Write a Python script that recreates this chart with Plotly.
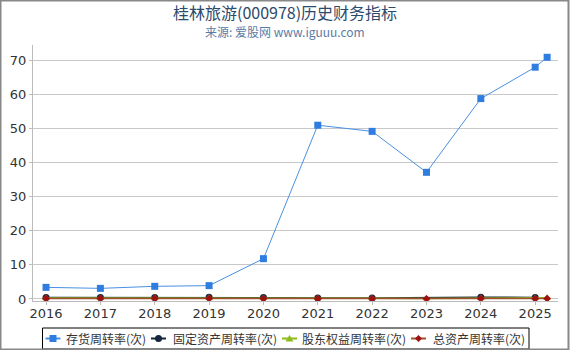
import plotly.graph_objects as go

years = [2016, 2017, 2018, 2019, 2020, 2021, 2022, 2023, 2024, 2025, 2025.22]
tick_vals = [2016, 2017, 2018, 2019, 2020, 2021, 2022, 2023, 2024, 2025]
tick_text = ["2016", "2017", "2018", "2019", "2020", "2021", "2022", "2023", "2024", "2025"]

inventory = [3.4, 3.1, 3.7, 3.9, 11.8, 50.9, 49.1, 37.1, 58.7, 67.9, 70.8]
fixed_asset = [0.45, 0.4, 0.45, 0.5, 0.45, 0.25, 0.25, None, 0.5, 0.45, None]
equity = [0.3, 0.3, 0.35, 0.35, 0.3, 0.2, 0.2, 0.1, 0.3, 0.3, 0.35]
total_asset = [0.12, 0.12, 0.13, 0.14, 0.12, 0.07, 0.07, 0.05, 0.12, 0.12, 0.1]

names = ["存货周转率(次)", "固定资产周转率(次)", "股东权益周转率(次)", "总资产周转率(次)"]
title_text = "桂林旅游(000978)历史财务指标"
subtitle_text = "来源: 爱股网 www.iguuu.com"

line_colors = ["#4a90e2", "#15263d", "#8dbb1c", "#a0522d"]
marker_colors = ["#2f7de1", "#15263d", "#8dbb1c", "#a01010"]
symbols = ["square", "circle", "triangle-up", "diamond"]
series = [inventory, fixed_asset, equity, total_asset]

L, T, PW, PH = 33, 45, 525, 256


def px(x):
    return (x - L) / PW


def py(y):
    return (T + PH - y) / PH


fig = go.Figure()
for i in range(4):
    fig.add_trace(go.Scatter(
        x=years, y=series[i], name=names[i], mode="lines+markers",
        line=dict(color=line_colors[i], width=1 if i == 0 else 1.5),
        marker=dict(symbol=symbols[i], size=7 if i < 3 else 6, color=marker_colors[i]),
        connectgaps=True, showlegend=False))

fig.update_layout(
    width=570, height=350,
    margin=dict(l=L, r=570 - L - PW, t=T, b=350 - T - PH, autoexpand=False),
    paper_bgcolor="white", plot_bgcolor="white",
    font=dict(family="Noto Sans CJK SC, DejaVu Sans", size=12, color="#333333"),
    xaxis=dict(range=[2015.76, 2025.42], tickmode="array", tickvals=tick_vals, ticktext=tick_text,
               showgrid=False, showline=True, linecolor="#bbbbbb", linewidth=1,
               ticks="outside", ticklen=3, tickcolor="#bbbbbb", ticklabelstandoff=-3,
               tickfont=dict(size=13, color="#333333", family="DejaVu Sans"), zeroline=False),
    yaxis=dict(range=[-0.6, 74.4], tickvals=[0, 10, 20, 30, 40, 50, 60, 70],
               showgrid=True, gridcolor="#c8c8c8", gridwidth=1,
               showline=True, linecolor="#bbbbbb", linewidth=1,
               ticks="outside", ticklen=3, tickcolor="#bbbbbb",
               tickfont=dict(size=13, color="#333333", family="DejaVu Sans"), zeroline=False),
    showlegend=False,
)

# title and subtitle
fig.add_annotation(text=title_text, xref="paper", yref="paper", x=px(285), y=py(11.5),
                   xanchor="center", yanchor="middle", showarrow=False,
                   font=dict(size=16, color="#2c4a6b"))
fig.add_annotation(text=subtitle_text, xref="paper", yref="paper", x=px(285), y=py(31.5),
                   xanchor="center", yanchor="middle", showarrow=False,
                   font=dict(size=12, color="#5b7ba5"))

# custom legend
leg_left, leg_right, leg_top, leg_bottom = 42.5, 529, 328, 349
fig.add_shape(type="rect", xref="paper", yref="paper",
              x0=px(leg_left), x1=px(leg_right), y0=py(leg_bottom), y1=py(leg_top),
              line=dict(color="#000000", width=1), fillcolor="white", layer="above")
ly = 338.5
sym_starts = [45.5, 151, 282, 411]
text_starts = [64, 171, 300, 431]
for i in range(4):
    x0, x1 = sym_starts[i], sym_starts[i] + 15
    cx = (x0 + x1) / 2
    fig.add_shape(type="line", xref="paper", yref="paper", x0=px(x0), x1=px(x1), y0=py(ly), y1=py(ly),
                  line=dict(color=line_colors[i], width=2), layer="above")
    s = 3.5
    if symbols[i] == "square":
        fig.add_shape(type="rect", xref="paper", yref="paper", x0=px(cx - s), x1=px(cx + s),
                      y0=py(ly + s), y1=py(ly - s), line=dict(width=0), fillcolor=marker_colors[i], layer="above")
    elif symbols[i] == "circle":
        fig.add_shape(type="circle", xref="paper", yref="paper", x0=px(cx - s), x1=px(cx + s),
                      y0=py(ly + s), y1=py(ly - s), line=dict(width=0), fillcolor=marker_colors[i], layer="above")
    elif symbols[i] == "triangle-up":
        path = "M {} {} L {} {} L {} {} Z".format(px(cx), py(ly - s), px(cx - s - 0.5), py(ly + s - 0.5),
                                                  px(cx + s + 0.5), py(ly + s - 0.5))
        fig.add_shape(type="path", xref="paper", yref="paper", path=path,
                      line=dict(width=0), fillcolor=marker_colors[i], layer="above")
    else:
        path = "M {} {} L {} {} L {} {} L {} {} Z".format(px(cx), py(ly - s), px(cx + s), py(ly),
                                                          px(cx), py(ly + s), px(cx - s), py(ly))
        fig.add_shape(type="path", xref="paper", yref="paper", path=path,
                      line=dict(width=0), fillcolor=marker_colors[i], layer="above")
    fig.add_annotation(text=names[i], xref="paper", yref="paper", x=px(text_starts[i]), y=py(ly),
                       xanchor="left", yanchor="middle", showarrow=False,
                       font=dict(size=12, color="#333333"))

# outer frame
fig.add_shape(type="rect", xref="paper", yref="paper",
              x0=px(0.5), x1=px(568.5), y0=py(349.5), y1=py(0.5),
              line=dict(color="#888888", width=2), fillcolor="rgba(0,0,0,0)", layer="above")

fig.write_html("out.html")
